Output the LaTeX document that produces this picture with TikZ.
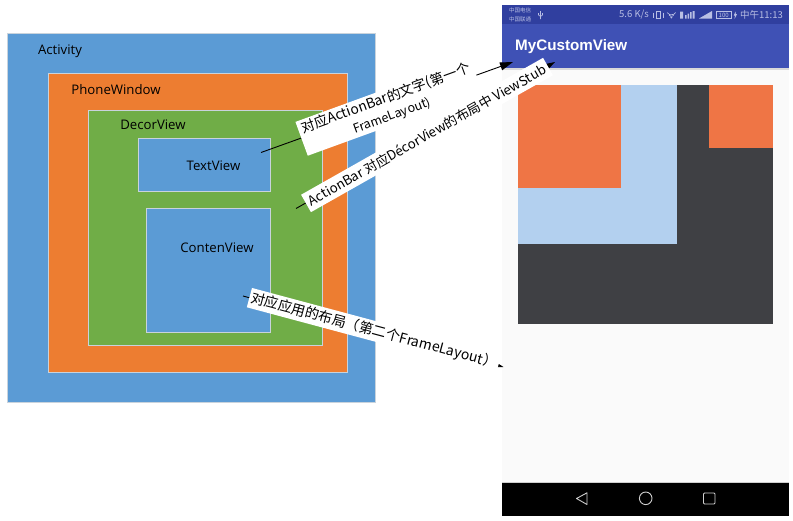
\documentclass[tikz,border=0pt]{standalone}
\usepackage{fontspec}
\setmainfont{Noto Sans CJK SC}
\newfontfamily\labelfont{Open Sans}
\newfontfamily\barfont{Liberation Sans}
\usetikzlibrary{arrows.meta}
\definecolor{bluefill}{HTML}{5B9BD5}
\definecolor{orangefill}{HTML}{ED7D31}
\definecolor{greenfill}{HTML}{70AD47}
\definecolor{panelline}{HTML}{C9D3DC}
\definecolor{statusbar}{HTML}{303F9F}
\definecolor{toolbar}{HTML}{3F51B5}
\definecolor{screenbg}{HTML}{FAFAFA}
\definecolor{darkview}{HTML}{3F4044}
\definecolor{lightview}{HTML}{B3D0EF}
\definecolor{orangeview}{HTML}{EF7545}
\definecolor{statustext}{HTML}{B9BFE4}
\definecolor{navgrey}{HTML}{CFCFCF}
\definecolor{shadowgrey}{HTML}{DADADA}
\tikzset{
  x=1pt,y=-1pt,
  panel/.style={draw=panelline,line width=0.7pt},
  lab/.style={font=\labelfont\fontsize{13.2}{15}\selectfont,text=black,inner sep=0pt},
  note/.style={fill=white,inner sep=0pt,font=\fontsize{13.8}{18}\selectfont,align=center,text=black},
  pointer/.style={draw=black,line width=0.9pt,-{Triangle[length=13pt,width=8pt]}},
  stat/.style={font=\fontsize{9.5}{11}\selectfont,text=statustext,inner sep=0pt},
  tiny/.style={font=\fontsize{5.5}{7}\selectfont,text=statustext,inner sep=0pt},
  navicon/.style={draw=navgrey,line width=0.9pt},
  staticon/.style={draw=statustext,line width=0.6pt},
}
\begin{document}
\begin{tikzpicture}
\useasboundingbox (0,0) rectangle (793,520);
\fill[white] (0,0) rectangle (793,520);
% left nested panels
\draw[panel,fill=bluefill] (7.5,33.5) rectangle (375.5,402);
\draw[panel,fill=orangefill] (48,73) rectangle (347,372);
\draw[panel,fill=greenfill] (88,110) rectangle (322,345);
\draw[panel,fill=bluefill] (138,138) rectangle (270,191);
\draw[panel,fill=bluefill] (146,208) rectangle (270,332);
\node[lab] (activity) at (60,51.5) {Activity};
\node[lab] (phonewindow) at (116,89.5) {PhoneWindow};
\node[lab] (decorview) at (153,124.5) {DecorView};
\node[lab] (textview) at (213.5,166) {TextView};
\node[lab] (contenview) at (217,248) {ContenView};
% phone screen
\fill[screenbg] (502,68) rectangle (789,482);
\fill[shadowgrey] (502,68) rectangle (789,69.5);
\fill[statusbar] (502,5) rectangle (789,23.5);
\fill[toolbar] (502,23.5) rectangle (789,68);
\fill[black] (502,482) rectangle (789,516);
\fill[navgrey] (502,481.5) rectangle (789,482.3);
\fill[darkview] (518,84.5) rectangle (773,324);
\fill[lightview] (518,84.5) rectangle (677,244);
\fill[orangeview] (518,84.5) rectangle (621,188);
\fill[orangeview] (709,84.5) rectangle (773,148);
\node[font=\barfont\bfseries\fontsize{15.2}{18}\selectfont,text=white,inner sep=0pt,anchor=west] (apptitle) at (515,47) {MyCustomView};
\node[tiny,anchor=west] (carriera) at (509,10.5) {中国电信};
\node[tiny,anchor=west] (carrierb) at (509,19) {中国联通};
\node[stat,anchor=west] (speed) at (619,15) {5.6 K/s};
\node[stat,anchor=east] (clock) at (783,15) {中午11:13};
\draw[staticon] (540.5,11) -- (540.5,19) (538.5,13) -- (538.5,15) -- (540.5,16.5) -- (542.5,15) -- (542.5,13);
\draw[staticon] (656,11.5) rectangle (660.5,18.5) (653.5,12.5) -- (653.5,17.5) (663,12.5) -- (663,17.5);
\draw[staticon] (667,12.5) arc[start angle=150,end angle=30,radius=5] (669,15) arc[start angle=150,end angle=30,radius=2.7];
\fill[statustext] (671.3,17.5) circle[radius=1];
\fill[statustext] (680,11.5) rectangle (683,18.5) (685,15) rectangle (686.5,18.5) (687.5,13.5) rectangle (689,18.5) (690,12) rectangle (691.5,18.5) (692.5,11) rectangle (694.5,18.5);
\fill[statustext] (699,18.5) -- (712,11) -- (712,18.5) -- cycle;
\draw[staticon] (716,11.5) rectangle (731.5,18.5);
\node[font=\fontsize{6}{7}\selectfont,text=statustext,inner sep=0pt] (battery) at (723.7,15) {100};
\fill[statustext] (735.5,11.5) -- (733.8,15.5) -- (735,15.5) -- (734.5,19) -- (737,14) -- (735.8,14) -- cycle;
% navigation icons
\draw[navicon,line join=round] (587,492.8) -- (587,504.5) -- (576.5,498.5) -- cycle;
\draw[navicon] (645.7,498.3) circle[radius=6.3];
\draw[navicon,rounded corners=1pt] (703.5,493) rectangle (715,504);
% connectors
\coordinate (startA) at (261,152.5);
\coordinate (tipA) at (513,62);
\coordinate (startB) at (296,208.5);
\coordinate (tipB) at (555,62);
\coordinate (startC) at (243,296);
\coordinate (tipC) at (503.5,367);
\draw[pointer] (startA) -- (tipA);
\draw[pointer] (startB) -- (tipB);
\draw[pointer] (startC) -- (tipC);
% white annotation labels
\node[note,rotate=20,minimum width=186,minimum height=36] (noteA) at (389,107) {对应ActionBar的文字(第一个\\{\fontsize{12.5}{18}\selectfont FrameLayout)}};
\node[note,rotate=29.5,minimum width=278,minimum height=20,font=\fontsize{13.3}{18}\selectfont] (noteB) at (427,135) {ActionBar 对应DécorView的布局中 ViewStub};
\node[note,rotate=-15,minimum width=258,minimum height=20,font=\fontsize{14}{18}\selectfont] (noteC) at (374,331) {对应应用的布局（第二个FrameLayout）};
\end{tikzpicture}
\end{document}
